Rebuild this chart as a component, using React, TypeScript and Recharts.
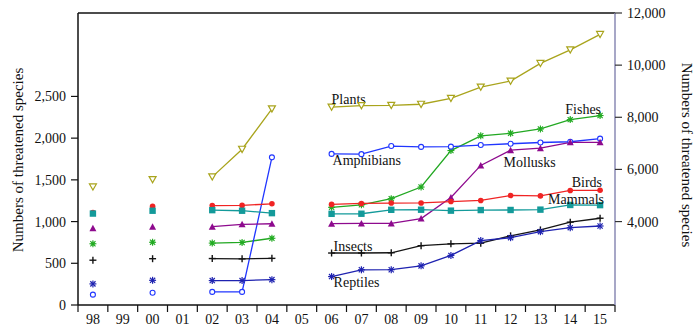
import React from 'react';
import { LineChart, Line, XAxis, YAxis, ReferenceLine } from 'recharts';

const years = ['98', '99', '00', '01', '02', '03', '04', '05', '06', '07', '08', '09', '10', '11', '12', '13', '14', '15'];

// null = no assessment that year (gap in the line)
const plants = [5328, null, 5611, null, 5714, 6774, 8321, null, 8390, 8447, 8457, 8500, 8724, 9156, 9390, 10065, 10584, 11178];
const birds = [1107, null, 1183, null, 1192, 1194, 1213, null, 1206, 1217, 1222, 1223, 1240, 1253, 1313, 1308, 1373, 1375];
const mammals = [1096, null, 1130, null, 1137, 1130, 1101, null, 1093, 1094, 1141, 1142, 1131, 1138, 1139, 1143, 1199, 1197];
const mollusks = [920, null, 938, null, 939, 967, 974, null, 975, 978, 978, 1036, 1288, 1673, 1856, 1880, 1950, 1950];
const fishes = [734, null, 752, null, 742, 750, 800, null, 1171, 1201, 1275, 1414, 1851, 2028, 2058, 2110, 2222, 2271];
const insects = [537, null, 555, null, 557, 553, 559, null, 623, 623, 626, 711, 733, 741, 829, 900, 993, 1040];
const amphibians = [124, null, 146, null, 157, 157, 1770, null, 1811, 1808, 1905, 1895, 1898, 1917, 1933, 1948, 1957, 1994];
const reptiles = [253, null, 296, null, 293, 293, 304, null, 341, 422, 423, 469, 594, 772, 807, 879, 927, 947];

const leftTicks = [0, 500, 1000, 1500, 2000, 2500];
const rightTicks = [4000, 6000, 8000, 10000, 12000];

const data = years.map((y, i) => ({
    year: y,
    plants: plants[i],
    birds: birds[i],
    mammals: mammals[i],
    mollusks: mollusks[i],
    fishes: fishes[i],
    insects: insects[i],
    amphibians: amphibians[i],
    reptiles: reptiles[i],
}));

// "at" = index of the year whose point carries the series name
const series = [
    { key: 'plants', name: 'Plants', color: '#a9a41c', marker: 'triDown', axis: 'right', at: 8, dx: 0, dy: -3, anchor: 'start' },
    { key: 'fishes', name: 'Fishes', color: '#22a822', marker: 'star', axis: 'left', at: 17, dx: 1, dy: -2, anchor: 'end' },
    { key: 'amphibians', name: 'Amphibians', color: '#2036ff', marker: 'ring', axis: 'left', at: 8, dx: 1, dy: 11, anchor: 'start' },
    { key: 'mollusks', name: 'Mollusks', color: '#8e0a8e', marker: 'triUp', axis: 'left', at: 14, dx: -7, dy: 17, anchor: 'start' },
    { key: 'birds', name: 'Birds', color: '#f02424', marker: 'circle', axis: 'left', at: 17, dx: 2, dy: -3, anchor: 'end' },
    { key: 'mammals', name: 'Mammals', color: '#139a9a', marker: 'square', axis: 'left', at: 17, dx: 4, dy: -1, anchor: 'end' },
    { key: 'insects', name: 'Insects', color: '#141414', marker: 'plus', axis: 'left', at: 8, dx: 2, dy: -2, anchor: 'start' },
    { key: 'reptiles', name: 'Reptiles', color: '#1e22b0', marker: 'asterisk', axis: 'left', at: 8, dx: 2, dy: 10, anchor: 'start' },
];

const FONT = '"Liberation Serif", "Times New Roman", serif';
const BAND = (615 - 78) / years.length;

const drawMarker = (kind: string, cx: number, cy: number, color: string) => {
    switch (kind) {
        case 'triDown':
            return <polygon points={`${cx - 3.5},${cy - 3} ${cx + 3.5},${cy - 3} ${cx},${cy + 3.2}`} fill="#fff" stroke={color} strokeWidth={1.2} />;
        case 'triUp':
            return <polygon points={`${cx - 3.5},${cy + 3} ${cx + 3.5},${cy + 3} ${cx},${cy - 3.5}`} fill={color} />;
        case 'circle':
            return <circle cx={cx} cy={cy} r={2.8} fill={color} />;
        case 'square':
            return <rect x={cx - 3.2} y={cy - 3.2} width={6.4} height={6.4} fill={color} />;
        case 'ring':
            return <circle cx={cx} cy={cy} r={2.5} fill="#fff" stroke={color} strokeWidth={1.1} />;
        case 'plus':
            return (
                <g stroke={color} strokeWidth={1.4}>
                    <line x1={cx - 3.5} y1={cy} x2={cx + 3.5} y2={cy} />
                    <line x1={cx} y1={cy - 3.5} x2={cx} y2={cy + 3.5} />
                </g>
            );
        case 'star':
            return (
                <g stroke={color} strokeWidth={1.1}>
                    <circle cx={cx} cy={cy} r={2.3} fill="#6fdc6f" stroke="none" />
                    <line x1={cx - 3.5} y1={cy} x2={cx + 3.5} y2={cy} />
                    <line x1={cx} y1={cy - 3.5} x2={cx} y2={cy + 3.5} />
                    <line x1={cx - 2.6} y1={cy - 2.6} x2={cx + 2.6} y2={cy + 2.6} />
                    <line x1={cx - 2.6} y1={cy + 2.6} x2={cx + 2.6} y2={cy - 2.6} />
                </g>
            );
        case 'asterisk':
        default:
            return (
                <g stroke={color} strokeWidth={1.2}>
                    <line x1={cx - 3.5} y1={cy} x2={cx + 3.5} y2={cy} />
                    <line x1={cx} y1={cy - 3.5} x2={cx} y2={cy + 3.5} />
                    <line x1={cx - 2.6} y1={cy - 2.6} x2={cx + 2.6} y2={cy + 2.6} />
                    <line x1={cx - 2.6} y1={cy + 2.6} x2={cx + 2.6} y2={cy - 2.6} />
                </g>
            );
    }
};

const makeDot = (s: typeof series[number]) => (props: any) => {
    const { cx, cy, index } = props;
    if (cx == null || cy == null || props.value == null) return <g key={`${s.key}-${index}`} />;
    return (
        <g key={`${s.key}-${index}`}>
            {drawMarker(s.marker, cx, cy, s.color)}
            {index === s.at && (
                <text x={cx + s.dx} y={cy + s.dy} textAnchor={s.anchor as any} fontFamily={FONT} fontSize={14} fill="#111">
                    {s.name}
                </text>
            )}
        </g>
    );
};

const XTick = (props: any) => {
    const { x, y, payload, index } = props;
    const left = x - BAND / 2;
    return (
        <g>
            <line x1={left} y1={y - 7} x2={left} y2={y} stroke="#111" strokeWidth={1.2} />
            {index === years.length - 1 && (
                <line x1={x + BAND / 2} y1={y - 7} x2={x + BAND / 2} y2={y} stroke="#111" strokeWidth={1.2} />
            )}
            <text x={x} y={y + 12} textAnchor="middle" fontFamily={FONT} fontSize={14} fill="#111">
                {payload.value}
            </text>
        </g>
    );
};

const tickStyle = { fontFamily: FONT, fontSize: 14, fill: '#111' };
const fmt = (v: number) => v.toLocaleString('en-US');

export default function App() {
    return (
        <div style={{ position: 'absolute', left: 0, top: 0, width: 697, height: 326, background: '#fff' }}>
            <LineChart width={697} height={326} data={data} margin={{ top: 13, right: 22, bottom: 0, left: 18 }}>
                <XAxis
                    dataKey="year"
                    height={21}
                    padding={{ left: BAND / 2, right: BAND / 2 }}
                    tickLine={false}
                    tickSize={7}
                    tickMargin={0}
                    interval={0}
                    tick={<XTick />}
                    axisLine={{ stroke: '#111', strokeWidth: 1.3 }}
                />
                <YAxis
                    yAxisId="left"
                    width={60}
                    domain={[0, 3500]}
                    ticks={leftTicks}
                    tickFormatter={fmt}
                    tickSize={7}
                    tickMargin={5}
                    tick={tickStyle}
                    axisLine={{ stroke: '#111', strokeWidth: 1.5 }}
                    tickLine={{ stroke: '#111', strokeWidth: 1.2 }}
                    label={{
                        content: () => (
                            <text x={18} y={160} transform="rotate(-90, 18, 160)" textAnchor="middle" dominantBaseline="central" fontFamily={FONT} fontSize={15} fill="#111">
                                Numbers of threatened species
                            </text>
                        ),
                    }}
                />
                <YAxis
                    yAxisId="right"
                    orientation="right"
                    width={60}
                    domain={[800, 12000]}
                    ticks={rightTicks}
                    tickFormatter={fmt}
                    tickSize={7}
                    tickMargin={5}
                    tick={tickStyle}
                    axisLine={{ stroke: '#8a8ab4', strokeWidth: 1.5 }}
                    tickLine={{ stroke: '#333', strokeWidth: 1.2 }}
                    label={{
                        content: () => (
                            <text x={687} y={155} transform="rotate(90, 687, 155)" textAnchor="middle" dominantBaseline="central" fontFamily={FONT} fontSize={15} fill="#111">
                                Numbers of threatened species
                            </text>
                        ),
                    }}
                />
                <ReferenceLine yAxisId="left" y={3500} stroke="#111" strokeWidth={1.5} />
                {series.map((s) => (
                    <Line
                        key={s.key}
                        yAxisId={s.axis}
                        dataKey={s.key}
                        type="linear"
                        stroke={s.color}
                        strokeWidth={1.3}
                        connectNulls={false}
                        dot={makeDot(s)}
                        activeDot={false}
                        isAnimationActive={false}
                    />
                ))}
            </LineChart>
        </div>
    );
}
